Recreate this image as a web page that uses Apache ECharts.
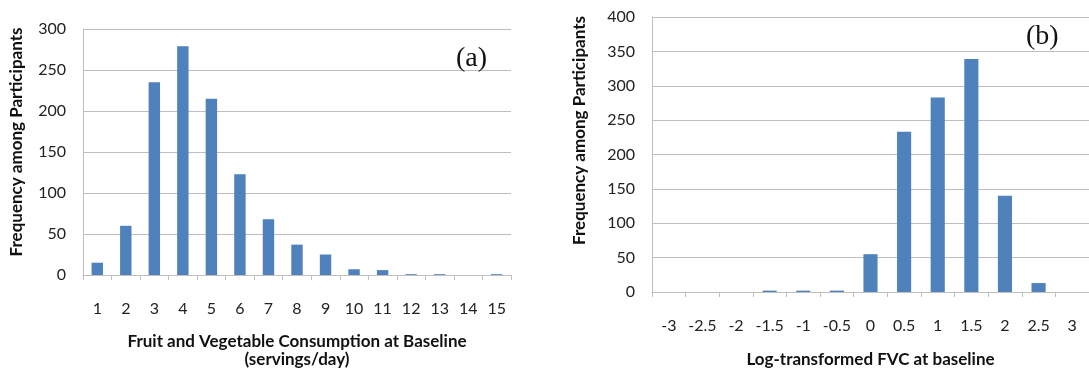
<!DOCTYPE html>
<html><head><meta charset="utf-8">
<script src="https://cdn.jsdelivr.net/npm/echarts@6/dist/echarts.min.js"></script>
<style>html,body{margin:0;padding:0;background:#fff}#c{width:1089px;height:374px}</style>
</head><body><div id="c"></div>
<script>
const catsA = ['1','2','3','4','5','6','7','8','9','10','11','12','13','14','15'];
const valsA = [15, 60, 235, 279, 215, 123, 68, 37, 25, 7, 6, 1, 1, 0, 1];
const catsB = ['-3','-2.5','-2','-1.5','-1','-0.5','0','0.5','1','1.5','2','2.5','3'];
const valsB = [0, 0, 0, 2, 2, 2, 55, 233, 283, 339, 140, 13, 0];
const ticksA = [0, 300, 50];
const ticksB = [0, 400, 50];
const titleA = 'Fruit and Vegetable Consumption at Baseline\n(servings/day)';
const titleB = 'Log-transformed FVC at baseline';
const yTitle = 'Frequency among Participants';

const font = 'Lato';
const blue = '#4F81BD';
const grid = '#bfbfbf';
function xAxis(i, cats, name, gap) {
  return {
    type: 'category', gridIndex: i, data: cats,
    axisLine: {lineStyle: {color: grid}},
    axisTick: {show: true, length: 5, lineStyle: {color: grid}},
    axisLabel: {color: '#222', fontFamily: font, fontSize: 16, margin: 26, interval: 0},
    name: name, nameLocation: 'middle', nameGap: gap,
    nameTextStyle: {color: '#111', fontFamily: font, fontWeight: 'bold', fontSize: 17, lineHeight: 18}
  };
}
function yAxis(i, t, gap, shift) {
  return {
    type: 'value', gridIndex: i, min: t[0], max: t[1], interval: t[2],
    axisLine: {show: true, lineStyle: {color: grid}},
    axisTick: {show: false},
    splitLine: {lineStyle: {color: grid}},
    axisLabel: {color: '#222', fontFamily: font, fontSize: 16, margin: 17},
    name: yTitle, nameLocation: 'middle', nameRotate: 90, nameGap: gap,
    nameTextStyle: {color: '#111', fontFamily: font, fontWeight: 'bold', fontSize: 17, padding: [0, 0, 0, shift]}
  };
}
const chart = echarts.init(document.getElementById('c'), null, {renderer: 'canvas'});
chart.setOption({
  animation: false,
  backgroundColor: '#fff',
  title: [
    {text: '(a)', left: 451, top: 40, textStyle: {fontFamily: 'Liberation Serif', fontWeight: 'normal', fontSize: 28, color: '#111'}},
    {text: '(b)', left: 1021, top: 18, textStyle: {fontFamily: 'Liberation Serif', fontWeight: 'normal', fontSize: 28, color: '#111'}}
  ],
  grid: [
    {left: 83, top: 29, width: 428, height: 250},
    {left: 652, top: 17, width: 446, height: 281}
  ],
  xAxis: [xAxis(0, catsA, titleA, 58), xAxis(1, catsB, titleB, 59)],
  yAxis: [yAxis(0, ticksA, 58, 20), yAxis(1, ticksB, 64, 48)],
  series: [
    {type: 'bar', xAxisIndex: 0, yAxisIndex: 0, data: valsA, barWidth: '40%', itemStyle: {color: blue}},
    {type: 'bar', xAxisIndex: 1, yAxisIndex: 1, data: valsB, barWidth: '42%', itemStyle: {color: blue}}
  ]
});
</script></body></html>
